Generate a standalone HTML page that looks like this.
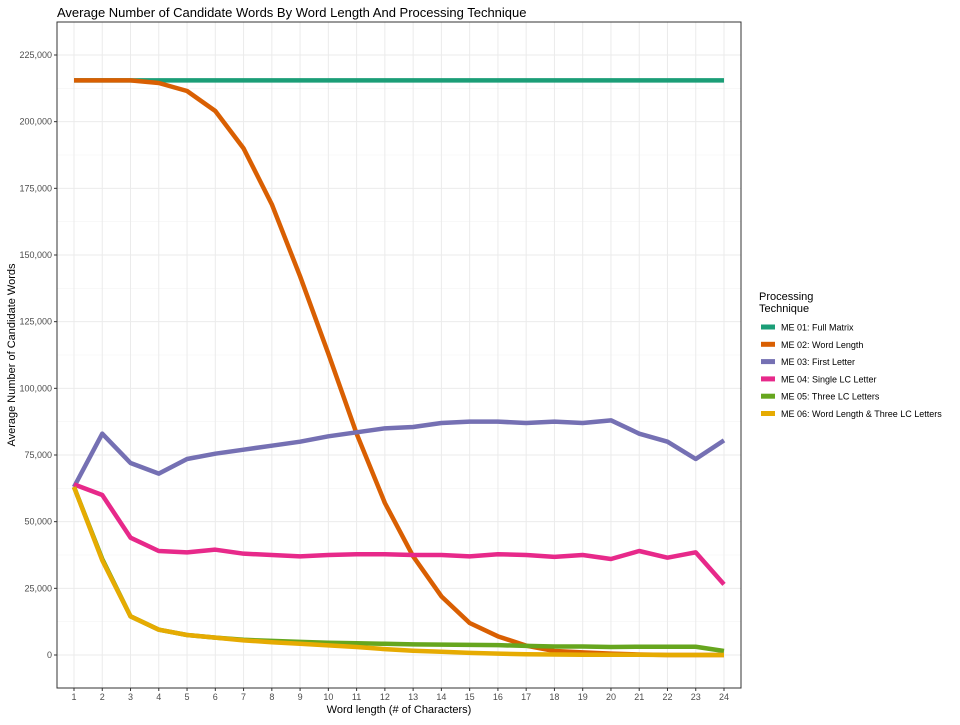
<!DOCTYPE html>
<html><head><meta charset="utf-8"><style>
body{margin:0;background:#fff;font-family:"Liberation Sans",sans-serif}
svg text{font-family:"Liberation Sans",sans-serif}
</style></head><body>
<svg width="960" height="720">
<text x="57" y="17" font-size="13" fill="#000">Average Number of Candidate Words By Word Length And Processing Technique</text>
<g id="grid"></g><g id="series"></g><g id="axes"></g>
<rect x="57" y="22" width="684" height="666" fill="none" stroke="#333" stroke-width="1"/>
<text x="399" y="713" font-size="11" text-anchor="middle">Word length (# of Characters)</text>
<text transform="translate(15,355) rotate(-90)" font-size="11" text-anchor="middle">Average Number of Candidate Words</text>
<g id="legend">
<text x="759" y="300" font-size="11">Processing</text>
<text x="759" y="312" font-size="11">Technique</text>
</g>
</svg>
<script>
const categories=[1,2,3,4,5,6,7,8,9,10,11,12,13,14,15,16,17,18,19,20,21,22,23,24];
const seriesNames=["ME 01: Full Matrix","ME 02: Word Length","ME 03: First Letter","ME 04: Single LC Letter","ME 05: Three LC Letters","ME 06: Word Length & Three LC Letters"];
const colors=["#1b9e77","#d95f02","#7570b3","#e7298a","#66a61e","#e6ab02"];
const me01=[215500,215500,215500,215500,215500,215500,215500,215500,215500,215500,215500,215500,215500,215500,215500,215500,215500,215500,215500,215500,215500,215500,215500,215500];
const me02=[215500,215500,215500,214500,211500,204000,190000,169000,142000,113000,83000,57000,37000,22000,12000,7000,3500,1500,1000,500,200,0,0,0];
const me03=[63000,83000,72000,68000,73500,75500,77000,78500,80000,82000,83500,85000,85500,87000,87500,87500,87000,87500,87000,88000,83000,80000,73500,80500];
const me04=[64000,60000,44000,39000,38500,39500,38000,37500,37000,37500,37800,37800,37500,37500,37000,37800,37500,36800,37500,36000,39000,36500,38500,26500];
const me05=[63000,36000,14500,9500,7500,6500,5700,5300,4900,4600,4400,4200,4000,3900,3800,3700,3400,3200,3200,3000,3100,3100,3100,1500];
const me06=[63000,35500,14500,9500,7500,6500,5500,4800,4200,3600,3000,2200,1600,1200,800,500,300,200,100,100,100,0,0,0];
const yTicks=[0,25000,50000,75000,100000,125000,150000,175000,200000,225000];
const NS="http://www.w3.org/2000/svg";
const xS=v=>74+(v-1)*(650/23);
const yS=v=>655-v*(600/225000);
function mk(tag,attrs,parent){const e=document.createElementNS(NS,tag);for(const k in attrs)e.setAttribute(k,attrs[k]);parent.appendChild(e);return e;}
const grid=document.getElementById('grid'),axes=document.getElementById('axes'),ser=document.getElementById('series'),leg=document.getElementById('legend');
mk('rect',{x:57,y:22,width:684,height:666,fill:'#fff'},grid);
for(let i=0;i<yTicks.length;i++){
  const v=yTicks[i];
  let l=mk('line',{x1:57,x2:741,y1:yS(v),y2:yS(v),stroke:'#ebebeb','stroke-width':1},grid);
  
  
  if(i<yTicks.length-1){mk('line',{x1:57,x2:741,y1:yS(v+12500),y2:yS(v+12500),stroke:'#f3f3f3','stroke-width':0.6},grid);}
  let t=mk('text',{x:52,y:yS(v)+3,'font-size':9,'text-anchor':'end',fill:'#4d4d4d'},axes);
  t.textContent=v.toLocaleString('en-US');
  
  
  mk('line',{x1:54,x2:57,y1:yS(v),y2:yS(v),stroke:'#333'},axes);
}
mk('line',{x1:57,x2:741,y1:yS(-12500),y2:yS(-12500),stroke:'#f3f3f3','stroke-width':0.6},grid);
categories.forEach(c=>{
  let l=mk('line',{x1:xS(c),x2:xS(c),y1:22,y2:688,stroke:'#ebebeb','stroke-width':1},grid);
  
  
  mk('line',{x1:xS(c),x2:xS(c),y1:688,y2:691,stroke:'#333'},axes);
  let t=mk('text',{x:xS(c),y:700,'font-size':9,'text-anchor':'middle',fill:'#4d4d4d'},axes);
  t.textContent=c;
  
  
});
const all=[me01,me02,me03,me04,me05,me06];
all.forEach((arr,i)=>{
  const p=mk('polyline',{points:arr.map((v,j)=>xS(categories[j])+','+yS(v)).join(' '),fill:'none',stroke:colors[i],'stroke-width':4.5,'stroke-linejoin':'round'},ser);
  
  
  const y=327+i*17.3;
  const k=mk('rect',{x:761,y:y-2.5,width:14,height:5,fill:colors[i]},leg);
  
  
  const t=mk('text',{x:781,y:y+3.5,'font-size':9,fill:'#000'},leg);
  t.textContent=seriesNames[i];
  
  
});
</script>
</body></html>
